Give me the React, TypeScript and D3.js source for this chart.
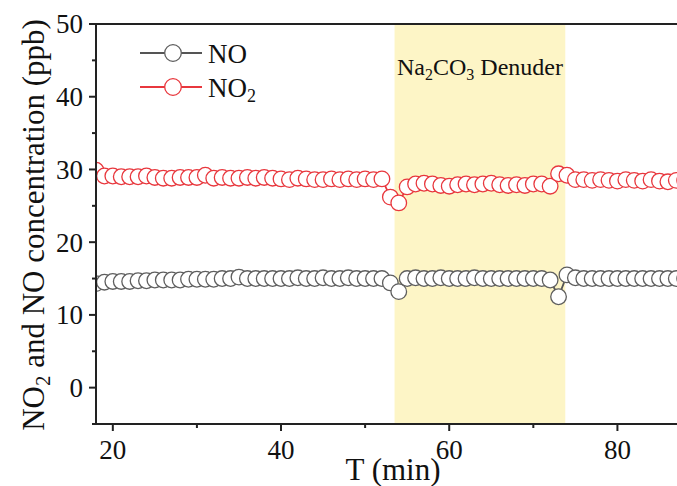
import React from "react";
import * as d3 from "d3";

const times = d3.range(18, 89);
const no2Values = [
  29.9, 29.1, 29.1, 29.0, 29.0, 29.0, 29.1, 28.9, 28.8, 28.8,
  28.9, 28.9, 28.9, 29.2, 28.8, 28.9, 28.8, 28.8, 28.9, 28.8,
  28.9, 28.8, 28.7, 28.6, 28.8, 28.7, 28.6, 28.6, 28.7, 28.6,
  28.7, 28.6, 28.7, 28.6, 28.7, 26.2, 25.4, 27.6, 28.0, 28.1,
  28.0, 27.8, 27.7, 27.9, 28.0, 27.9, 28.0, 28.1, 27.9, 27.8,
  27.9, 27.8, 28.0, 28.0, 27.7, 29.4, 29.2, 28.6, 28.6, 28.5,
  28.6, 28.5, 28.4, 28.6, 28.5, 28.4, 28.6, 28.4, 28.3, 28.5,
  28.5,
];
const noValues = [
  14.3, 14.5, 14.6, 14.6, 14.6, 14.7, 14.7, 14.8, 14.8, 14.8,
  14.8, 14.9, 14.9, 14.9, 14.9, 15.0, 15.0, 15.2, 15.0, 15.0,
  15.0, 15.0, 15.0, 15.0, 15.1, 15.0, 15.0, 15.1, 15.0, 15.0,
  15.1, 15.0, 15.0, 15.0, 15.0, 14.4, 13.2, 15.0, 15.1, 15.0,
  15.0, 15.1, 15.0, 15.0, 15.0, 15.1, 15.0, 15.0, 15.0, 15.0,
  15.0, 15.0, 15.0, 15.0, 14.8, 12.5, 15.5, 15.1, 15.0, 15.0,
  15.0, 15.0, 15.0, 15.0, 15.0, 15.0, 15.0, 15.0, 15.0, 15.0,
  15.0,
];
const xTicks = [20, 40, 60, 80];
const xMinorTicks = [30, 50, 70];
const yTicks = [0, 10, 20, 30, 40, 50];
const yMinorTicks = [-5, 5, 15, 25, 35, 45];
const denuderRange = [53.5, 73.8];

const W = 677;
const H = 486;
const FONT = "'Liberation Serif', 'Times New Roman', serif";
const RED = "#e8373d";
const GRAY = "#555555";
const AXIS = "#222222";

export default function App() {
  const left = 96, top = 24, bottom = 424;
  const x = d3.scaleLinear().domain([18, 90]).range([left, left + 72 * 8.41]);
  const y = d3.scaleLinear().domain([-5, 50]).range([bottom, top]);
  const line = d3.line<number>().x((_, i) => x(times[i])).y((d) => y(d));
  const r = 7.8;

  const series = [
    { values: noValues, color: GRAY, stroke: "#5e5e5e" },
    { values: no2Values, color: RED, stroke: RED },
  ];

  return (
    <svg width={W} height={H} style={{ position: "absolute", left: 0, top: 0, background: "#fff" }} fontFamily={FONT}>
      <defs>
        <clipPath id="plot">
          <rect x={left} y={top} width={W - left + 40} height={bottom - top} />
        </clipPath>
      </defs>
      <rect x={x(denuderRange[0])} y={top} width={x(denuderRange[1]) - x(denuderRange[0])} height={bottom - top} fill="#fdf5c6" />
      <g clipPath="url(#plot)">
        {series.map((s, k) => (
          <g key={k}>
            <path d={line(s.values) || ""} fill="none" stroke={s.color} strokeWidth={1.8} />
            {s.values.map((v, i) => (
              <circle key={i} cx={x(times[i])} cy={y(v)} r={r} fill="#fff" stroke={s.stroke} strokeWidth={1.3} />
            ))}
          </g>
        ))}
      </g>
      {/* axes */}
      <line x1={left} x2={left} y1={top - 1} y2={bottom + 1} stroke={AXIS} strokeWidth={2} />
      <line x1={left - 1} x2={W} y1={bottom} y2={bottom} stroke={AXIS} strokeWidth={2} />
      <line x1={left - 1} x2={W} y1={top} y2={top} stroke={AXIS} strokeWidth={2} />
      {yTicks.map((t) => (
        <g key={"y" + t}>
          <line x1={left - 7} x2={left} y1={y(t)} y2={y(t)} stroke={AXIS} strokeWidth={2} />
          <text x={left - 13} y={y(t)} dy="0.35em" textAnchor="end" fontSize={27} fill="#111">{t}</text>
        </g>
      ))}
      {yMinorTicks.map((t) => (
        <line key={"ym" + t} x1={left - 4} x2={left} y1={y(t)} y2={y(t)} stroke={AXIS} strokeWidth={2} />
      ))}
      {xTicks.map((t) => (
        <g key={"x" + t}>
          <line x1={x(t)} x2={x(t)} y1={bottom} y2={bottom + 7} stroke={AXIS} strokeWidth={2} />
          <text x={x(t)} y={bottom + 35} textAnchor="middle" fontSize={27} fill="#111">{t}</text>
        </g>
      ))}
      {xMinorTicks.map((t) => (
        <line key={"xm" + t} x1={x(t)} x2={x(t)} y1={bottom} y2={bottom + 4} stroke={AXIS} strokeWidth={2} />
      ))}
      {/* axis labels */}
      <text x={393} y={480} textAnchor="middle" fontSize={31} fill="#111">T (min)</text>
      <text transform="translate(44,225) rotate(-90)" textAnchor="middle" fontSize={31} fill="#111">
        NO<tspan fontSize={21} dy={6}>2</tspan><tspan dy={-6}> and NO concentration (ppb)</tspan>
      </text>
      {/* denuder label */}
      <text x={397} y={75} fontSize={24} fill="#111">
        Na<tspan fontSize={16} dy={5}>2</tspan><tspan dy={-5}>CO</tspan><tspan fontSize={16} dy={5}>3</tspan><tspan dy={-5}> Denuder</tspan>
      </text>
      {/* legend */}
      {[
        { label: "NO", sub: "", color: GRAY, stroke: "#5e5e5e", ly: 53 },
        { label: "NO", sub: "2", color: RED, stroke: RED, ly: 87 },
      ].map((l, i) => (
        <g key={"l" + i}>
          <line x1={140} x2={202} y1={l.ly} y2={l.ly} stroke={l.color} strokeWidth={2.2} />
          <circle cx={173} cy={l.ly} r={8.3} fill="#fff" stroke={l.stroke} strokeWidth={1.3} />
          <text x={208} y={l.ly + 10} fontSize={27} fill="#111">
            {l.label}
            {l.sub ? <tspan fontSize={18} dy={5}>{l.sub}</tspan> : null}
          </text>
        </g>
      ))}
    </svg>
  );
}
